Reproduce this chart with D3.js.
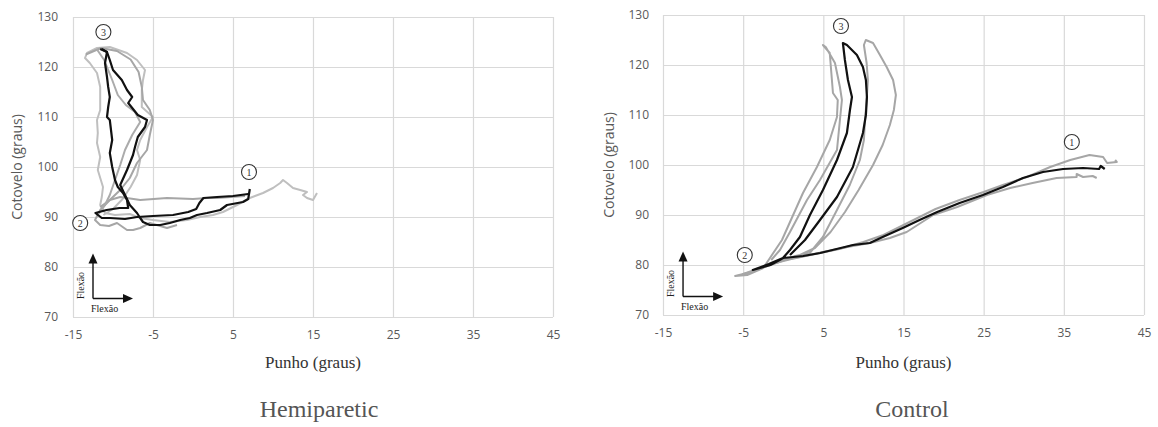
<!DOCTYPE html>
<html>
<head>
<meta charset="utf-8">
<script src="https://cdn.jsdelivr.net/npm/d3@7"></script>
<style>
  body { margin: 0; background: #fff; }
</style>
</head>
<body>
<div id="chart"></div>
<script>
var xTicks = [-15, -5, 5, 15, 25, 35, 45];
var yTicks = [70, 80, 90, 100, 110, 120, 130];

// Hemiparetic trials: [punho, cotovelo]
var hemiBlack1 = [[7.1,95.6],[7.0,94.6],[6.9,93.6],[6.25,93],[4.25,92.4],[3.4,91.4],[1.75,90.8],[0.5,90.4],[-0.4,89.8],[-1.6,89.4],[-2.9,88.8],[-4.1,88.4],[-5.4,88.4],[-6.25,89],[-6.6,89.8],[-7,90.8],[-7.9,92.4],[-8.5,94.4],[-9.1,96.4],[-8.25,99.4],[-7.5,102.4],[-7.25,104],[-6.9,106],[-6,108],[-5.75,109.4],[-6.9,110.4],[-7.6,111.8],[-8.1,112.8],[-7.6,114],[-8.25,115.4],[-8.9,117.4],[-10,119.4],[-10.4,121.4],[-10.75,123],[-11.4,123.6]];
var hemiBlack2 = [[6.9,94.6],[5,94.2],[3,94],[1.3,93.8],[0.8,92.8],[0.4,91.6],[-0.6,91],[-2.5,90.4],[-5,90.2],[-7,90],[-8.5,89.6],[-10.4,89.8],[-11.4,89.8],[-12.2,90.8],[-10.8,91.4],[-9.2,91.8],[-8.1,91.8],[-8.25,93.4],[-8.75,94.8],[-9.4,96],[-9.75,97.4],[-10.1,100],[-10.4,102.8],[-10.1,105.4],[-10.4,109.4],[-10.75,110],[-10.6,112],[-10.4,114],[-10.6,116],[-10.75,118],[-11,120.8],[-10.75,123],[-11.6,123.6]];
var hemiGrayA = [[15.5,94.8],[15,93.4],[14.25,93.8],[13.75,94.4],[14.25,95],[13.4,95.4],[12.5,95.8],[11.75,96.8],[11.25,97.4],[10.9,96.8],[10,95.8],[8.75,94.8],[7.1,93.8],[5.5,92.4],[3.75,91],[2.5,90.4],[0.9,90],[-0.75,89.4],[-2.9,89],[-5,89.4],[-6.6,89.8],[-7.9,90.6],[-9.75,90.4],[-11,90.8],[-11.6,92.4],[-11.4,94],[-11.25,96],[-11.9,99.4],[-11.6,102],[-12,104.8],[-11.9,106.8],[-12,109.4],[-11.6,111.4],[-11.6,116],[-12,118.8],[-12.9,120.8],[-13.5,121.8],[-13.25,122.8],[-12,123.8],[-10.4,124],[-8.25,122.8],[-7,121.4],[-6,119.4],[-6.25,117.4],[-6.4,115.4],[-6.4,112],[-5,110],[-5.75,108],[-6.6,105.4],[-7,103.4],[-6.6,101.4],[-7,98.4],[-7.8,96],[-8.8,93.6],[-10,91.6],[-11.2,90.4]];
var hemiGrayB = [[6.5,94.2],[3,93.8],[1.75,93.8],[0,93.6],[-3.25,93.8],[-6.6,93.4],[-9.1,94],[-10.4,93.4],[-11.6,91.4],[-12.25,89.4],[-11.6,88.4],[-10.5,88.2],[-9.5,88.8],[-8.25,87.4],[-7.5,87.4],[-6.6,87.8],[-5.4,88.8],[-3.25,87.8],[-2,88.4]];
var hemiGrayC = [[-11.6,92],[-10.4,93.4],[-9.1,95.4],[-7.9,97.8],[-7,100.8],[-5.75,103.4],[-5.4,106.4],[-5,109.4],[-5.4,111.4],[-6.25,113.4],[-6.4,116],[-6.8,119],[-7.8,121.5],[-9.5,123.2],[-11.5,123.8],[-13.4,122.5]];
var hemiGrayD = [[-12,123.5],[-11.1,121.4],[-10.1,117.4],[-9.4,114.4],[-8.4,112.4],[-7.25,111],[-6.6,109],[-7.6,106.4],[-8.5,103.4],[-9.1,100.4],[-9.75,97.4],[-10.4,94.4],[-11,92.4],[-11.8,90.6]];

// Control trials
var ctrlBlack = [[40.1,99.2],[39.6,99.8],[39.4,99.2],[37.4,99.4],[34.9,99.2],[32.4,98.6],[29.9,97.4],[27.4,95.6],[24.9,94],[22,92.4],[19.2,90.6],[17,89],[14.9,87.4],[12.4,85.6],[10.8,84.4],[8.7,84],[4.6,82.4],[2.5,81.8],[0,81.4],[-1.6,80],[-3.8,79],[-1.8,80.2],[-0.04,81.4],[0.84,83],[2.08,85.6],[3.33,90],[4.95,95],[6.7,101],[7.94,106.4],[8.32,111],[8.57,113.6],[8.07,117],[7.69,121],[7.44,124.4],[7.94,124],[9.19,122],[9.94,119.6],[10.31,117],[10.44,113.6],[10.31,110],[9.94,106.4],[8.69,99.6],[6.7,93.6],[4.58,89],[2.71,85],[0.84,82]];
var ctrlGrayA = [[41.4,101],[41.6,100.6],[40.4,100.4],[39.9,101.6],[38.2,102],[35.8,101],[33.3,99.6],[30.4,97.6],[27.4,96],[25,94.6],[22,93],[19,91.2],[17,89.6],[15,88],[12.5,86],[10,84.6],[7,83.2],[4,82.2],[1,81.2],[-2,80],[-4,78.6],[-6,77.8],[-4.5,78],[-2.5,79.4],[-1.66,81.4],[-0.16,85],[2.46,94.4],[4.2,99.6],[5.8,105],[6.7,109.6],[6.8,113],[6.2,114.4],[5.8,122.4],[4.95,124],[5.3,123.6],[6.45,120.4],[7.07,115.6],[7.32,113],[7.07,109],[6.7,103],[4.58,97],[2.96,93],[0.84,86.6],[-0.41,83],[-1.5,81]];
var ctrlGrayB = [[39.1,97.4],[38.6,97.8],[37.4,97.6],[36.6,98.2],[36.6,97.6],[34.1,97.4],[31.1,96.4],[28.3,95.4],[25.4,94],[21.7,91.6],[18.7,90],[15.4,86.6],[13.3,85.4],[10.8,84.4],[8,83.6],[5,82.6],[2,81.6],[-0.5,80.8],[-2.5,79.6],[-5,78.2],[-3,79.2],[-0.5,80.6],[1.5,81.8],[3.3,82.4],[4.95,85.6],[6.7,91],[8.3,96],[9.56,101],[10.06,105],[10.2,109],[10.4,113],[10.56,117],[10.4,120.4],[10.06,124],[10.3,125],[11.2,124.4],[12.06,122],[12.9,119.6],[13.7,117],[14.05,114],[13.8,111],[13.3,108],[12.4,104],[11.2,100],[9.4,95],[7.7,90.6],[5.9,86.6],[3.95,83.4],[2.08,82]];

// phase markers [label, punho, cotovelo]
var hemiMarks = [["3", -11.2, 127], ["1", 7, 99], ["2", -14.1, 88.8]];
var ctrlMarks = [["3", 7.2, 127.8], ["1", 36, 104.6], ["2", -4.8, 82]];

var svg = d3.select("#chart").append("svg")
    .attr("width", 1158)
    .attr("height", 427)
    .style("background", "#fff");

function drawPanel(p) {
  var xScale = d3.scaleLinear().domain([-15, 45]).range([p.left, p.right]);
  var yScale = d3.scaleLinear().domain([70, 130]).range([p.bottom, p.top]);

  var gx = svg.append("g")
      .attr("transform", "translate(0," + p.bottom + ")")
      .call(d3.axisBottom(xScale).tickValues(xTicks).tickSize(-(p.bottom - p.top)).tickPadding(13).tickFormat(d3.format("d")));
  var gy = svg.append("g")
      .attr("transform", "translate(" + p.left + ",0)")
      .call(d3.axisLeft(yScale).tickValues(yTicks).tickSize(-(p.right - p.left)).tickPadding(p.pad).tickFormat(d3.format("d")));

  [gx, gy].forEach(function(g) {
    g.select(".domain").remove();
    g.selectAll("line").attr("stroke", "#d9d9d9").attr("stroke-width", 1.2);
    g.selectAll("text").attr("fill", "#595959").style("font-family", "'Open Sans', sans-serif").style("font-size", "12px");
  });
  gx.selectAll("text").text(function(d) { return d < 0 ? "-" + Math.abs(d) : d; });

  var line = d3.line()
      .x(function(d) { return xScale(d[0]); })
      .y(function(d) { return yScale(d[1]); });

  p.gray.forEach(function(s, i) {
    svg.append("path").datum(s).attr("d", line)
      .attr("fill", "none").attr("stroke", p.grayColors[i])
      .attr("stroke-width", 2).attr("stroke-linejoin", "round");
  });
  p.black.forEach(function(s) {
    svg.append("path").datum(s).attr("d", line)
      .attr("fill", "none").attr("stroke", "#111")
      .attr("stroke-width", 2.2).attr("stroke-linejoin", "round");
  });

  // circled phase numbers
  p.marks.forEach(function(m) {
    svg.append("circle").attr("cx", xScale(m[1])).attr("cy", yScale(m[2])).attr("r", 7.5)
      .attr("fill", "#fff").attr("stroke", "#333").attr("stroke-width", 1.1);
    svg.append("text").attr("x", xScale(m[1])).attr("y", yScale(m[2]) + 3.5)
      .attr("text-anchor", "middle").style("font-family", "'Liberation Serif', serif")
      .style("font-size", "10px").attr("fill", "#333").text(m[0]);
  });

  // flexion arrows
  var ax = xScale(-12.5), ay = yScale(73.7), top = yScale(82.7), rx = xScale(-7.5);
  svg.append("path").attr("d", "M" + ax + "," + ay + "V" + (top + 8) + "M" + ax + "," + ay + "H" + (rx - 8))
    .attr("stroke", "#111").attr("stroke-width", 1.4).attr("fill", "none");
  svg.append("path").attr("d", "M" + ax + "," + top + "l-4.5,10h9z").attr("fill", "#111");
  svg.append("path").attr("d", "M" + rx + "," + ay + "l-10,-4.5v9z").attr("fill", "#111");
  svg.append("text").attr("transform", "translate(" + (ax - 9) + "," + (ay - 13) + ") rotate(-90)")
    .attr("text-anchor", "middle").style("font-family", "'Liberation Serif', serif").style("font-size", "10px")
    .attr("fill", "#222").text("Flexão");
  svg.append("text").attr("x", ax - 2).attr("y", ay + 13)
    .style("font-family", "'Liberation Serif', serif").style("font-size", "10px")
    .attr("fill", "#222").text("Flexão");

  // axis titles
  svg.append("text").attr("transform", "translate(" + p.ylabX + "," + ((p.top + p.bottom) / 2) + ") rotate(-90)")
    .attr("text-anchor", "middle").style("font-family", "'Open Sans', sans-serif").style("font-size", "14px")
    .attr("fill", "#595959").text("Cotovelo (graus)");
  svg.append("text").attr("x", (p.left + p.right) / 2).attr("y", 368)
    .attr("text-anchor", "middle").style("font-family", "'Liberation Serif', serif").style("font-size", "17px")
    .attr("fill", "#333").text("Punho (graus)");
  svg.append("text").attr("x", p.captionX).attr("y", 417)
    .attr("text-anchor", "middle").style("font-family", "'Liberation Serif', serif").style("font-size", "24px")
    .attr("fill", "#555").text(p.caption);
}

drawPanel({left: 73, right: 553, top: 17, bottom: 317, pad: 15, ylabX: 22,
  black: [hemiBlack1, hemiBlack2], gray: [hemiGrayA, hemiGrayB, hemiGrayC, hemiGrayD],
  grayColors: ["#bfbfbf", "#a6a6a6", "#a6a6a6", "#ababab"],
  marks: hemiMarks, caption: "Hemiparetic", captionX: 319});

drawPanel({left: 663, right: 1144, top: 15, bottom: 315, pad: 14, ylabX: 614,
  black: [ctrlBlack], gray: [ctrlGrayA, ctrlGrayB],
  grayColors: ["#a6a6a6", "#a6a6a6"],
  marks: ctrlMarks, caption: "Control", captionX: 912});
</script>
</body>
</html>
